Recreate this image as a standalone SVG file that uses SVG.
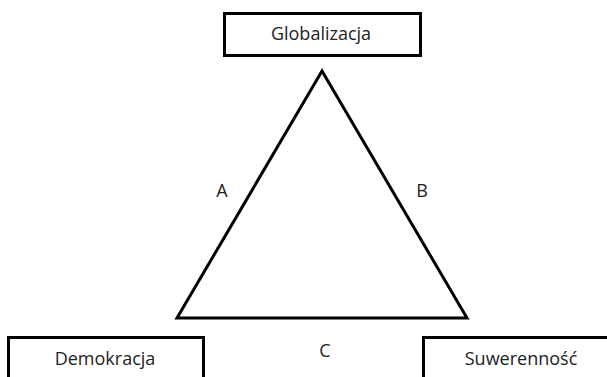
<svg xmlns="http://www.w3.org/2000/svg" width="607" height="377" viewBox="0 0 607 377">
<style>
.box{fill:#fff;stroke:#000;stroke-width:3}
.t{font-family:"Open Sans","Noto Sans",sans-serif;font-size:18px;fill:#222}
.edge{fill:none;stroke:#000;stroke-width:3;stroke-linejoin:miter}
</style>
<rect width="607" height="377" fill="#fff"/>
<g id="connectors">
<polygon class="edge" points="322,71 177,318 467,318"/>
<text class="t" x="222" y="197" text-anchor="middle">A</text>
<text class="t" x="422" y="197" text-anchor="middle">B</text>
<text class="t" x="325" y="357" text-anchor="middle">C</text>
</g>
<g id="globalizacja">
<rect class="box" x="224.5" y="13.5" width="196" height="42"/>
<text class="t" x="321" y="40" text-anchor="middle">Globalizacja</text>
</g>
<g id="demokracja">
<rect class="box" x="8.5" y="337.5" width="195" height="50"/>
<text class="t" x="105" y="365" text-anchor="middle">Demokracja</text>
</g>
<g id="suwerennosc">
<rect class="box" x="423.5" y="337.5" width="200" height="50"/>
<text class="t" x="521" y="365" text-anchor="middle">Suwerenność</text>
</g>
</svg>
